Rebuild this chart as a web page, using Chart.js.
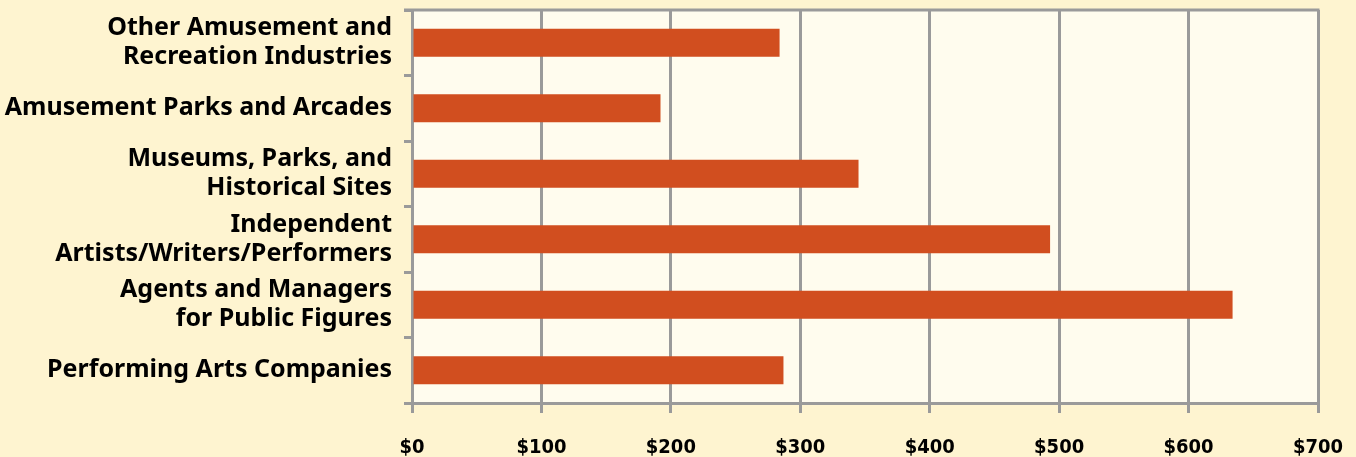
<!DOCTYPE html>
<html>
<head>
<meta charset="utf-8">
<script src="https://cdn.jsdelivr.net/npm/chart.js@4"></script>
<style>
  html, body { margin: 0; padding: 0; background: #fef4d0; }
  #wrap { width: 1356px; height: 457px; position: relative; }
</style>
</head>
<body>
<div id="wrap"><canvas id="spendChart"></canvas></div>
<script>
// categories, top to bottom
const categories = [
  ["Other Amusement and", "Recreation Industries"],
  "Amusement Parks and Arcades",
  ["Museums, Parks, and", "Historical Sites"],
  ["Independent", "Artists/Writers/Performers"],
  ["Agents and Managers", "for Public Figures"],
  "Performing Arts Companies",
];
const spending = [284, 192, 345, 493, 634, 287];
const xTicks = [0, 100, 200, 300, 400, 500, 600, 700];

const gridGray = "#9a9a9a";

// plot area fill + top border
const plotBox = {
  id: "plotBox",
  beforeDraw(chart) {
    const { ctx, chartArea: a } = chart;
    ctx.save();
    ctx.fillStyle = "#fffcee";
    ctx.fillRect(a.left, a.top, a.right - a.left, a.bottom - a.top);
    ctx.restore();
  },
  afterDraw(chart) {
    const { ctx, chartArea: a } = chart;
    ctx.save();
    ctx.strokeStyle = gridGray;
    ctx.lineWidth = 3;
    ctx.beginPath();
    ctx.moveTo(a.left - 8, a.top);
    ctx.lineTo(a.right + 1.5, a.top);
    ctx.stroke();
    ctx.restore();
  },
};

new Chart(document.getElementById("spendChart"), {
  type: "bar",
  data: {
    labels: categories,
    datasets: [
      {
        data: spending,
        backgroundColor: "#d14e1f",
        barPercentage: 0.43,
        categoryPercentage: 1,
      },
    ],
  },
  options: {
    indexAxis: "y",
    responsive: true,
    maintainAspectRatio: false,
    animation: false,
    layout: { padding: { top: 10, right: 38, left: 0, bottom: 0 } },
    scales: {
      x: {
        min: 0,
        max: 700,
        afterBuildTicks: (s) => { s.ticks = xTicks.map((v) => ({ value: v })); },
        afterFit: (s) => { s.height = 54; s.paddingLeft = 0; s.paddingRight = 0; },
        grid: { color: gridGray, lineWidth: 3, tickLength: 10 },
        border: { color: gridGray, width: 3 },
        ticks: {
          padding: 23,
          color: "#000",
          font: { family: "DejaVu Sans Condensed", weight: "bold", size: 20 },
          callback: (v) => "$" + v,
        },
      },
      y: {
        afterFit: (s) => { s.width = 412; s.paddingTop = 0; s.paddingBottom = 0; },
        grid: { drawOnChartArea: false, color: gridGray, lineWidth: 3, tickLength: 8, offset: true },
        border: { color: gridGray, width: 3 },
        ticks: {
          padding: 12,
          color: "#000",
          font: { family: "Noto Sans", weight: "bold", size: 25, lineHeight: 1.16 },
        },
      },
    },
    plugins: {
      legend: { display: false },
      tooltip: { enabled: false },
    },
  },
  plugins: [plotBox],
});
</script>
</body>
</html>
